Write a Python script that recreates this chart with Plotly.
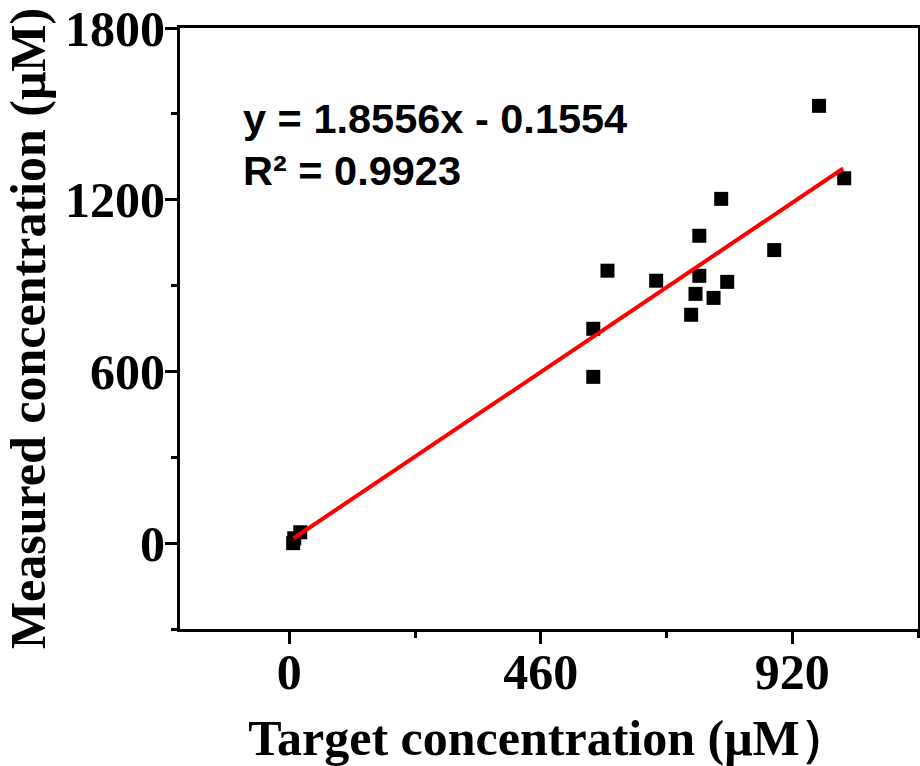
import plotly.graph_objects as go

# Data
target = [7, 9, 20, 556, 556, 582, 671, 735, 743, 750, 750, 776, 790, 801, 887, 969, 1015]
measured = [0, 17, 38, 581, 749, 952, 917, 798, 871, 1074, 934, 857, 1203, 913, 1024, 1528, 1275]

fit_x = [8, 1013]
fit_y = [17, 1309]

x_ticks = [0, 460, 920]
y_ticks = [0, 600, 1200, 1800]

eq_text = "y = 1.8556x - 0.1554"
r2_text = "R² = 0.9923"

serif = "Liberation Serif"
sans = "Liberation Sans"

fig = go.Figure()
fig.add_trace(go.Scatter(
    x=target, y=measured, mode="markers",
    marker=dict(symbol="square", size=14, color="black", line=dict(width=0)),
    showlegend=False,
))
fig.add_trace(go.Scatter(
    x=fit_x, y=fit_y, mode="lines",
    line=dict(color="#ff0000", width=4),
    showlegend=False,
))

fig.add_annotation(x=-88, y=1484, xref="x", yref="y", text=f"<b>{eq_text}</b>",
                   showarrow=False, xanchor="left", yanchor="middle",
                   font=dict(family=sans, size=41.5, color="black"))
fig.add_annotation(x=-88, y=1302, xref="x", yref="y", text=f"<b>{r2_text}</b>",
                   showarrow=False, xanchor="left", yanchor="middle",
                   font=dict(family=sans, size=41.5, color="black"))

axis_common = dict(
    showgrid=False, zeroline=False,
    showline=True, linecolor="black", linewidth=3, mirror=True,
    ticks="outside", ticklen=12, tickwidth=3, tickcolor="black",
    tickfont=dict(family=serif, size=50, color="black", weight="bold"),
)

fig.update_xaxes(
    range=[-200, 1150], tickvals=x_ticks, ticktext=[str(v) for v in x_ticks],
    ticklabelstandoff=-15,
    minor=dict(ticks="outside", ticklen=6, tickwidth=3, tickcolor="black",
               tickvals=[230, 690, 1150]),
    title=dict(text="<b>Target concentration (μM）</b>", standoff=25,
               font=dict(family=serif, size=50, color="black")),
    **axis_common,
)
fig.update_yaxes(
    range=[-300, 1800], tickvals=y_ticks, ticktext=[str(v) for v in y_ticks],
    ticklabelstandoff=-10,
    minor=dict(ticks="outside", ticklen=6, tickwidth=3, tickcolor="black",
               tickvals=[-300, 300, 900, 1500]),
    title=dict(text="<b>Measured concentration (μM)</b>", standoff=8,
               font=dict(family=serif, size=50, color="black")),
    **axis_common,
)

fig.update_layout(
    width=920, height=766,
    margin=dict(l=180, r=2, t=28, b=137, autoexpand=False),
    paper_bgcolor="white", plot_bgcolor="white",
)

fig.write_html(
    "out.html",
    config={"displayModeBar": False},
    post_script="document.body.style.margin='0';document.body.style.overflow='hidden';",
)
